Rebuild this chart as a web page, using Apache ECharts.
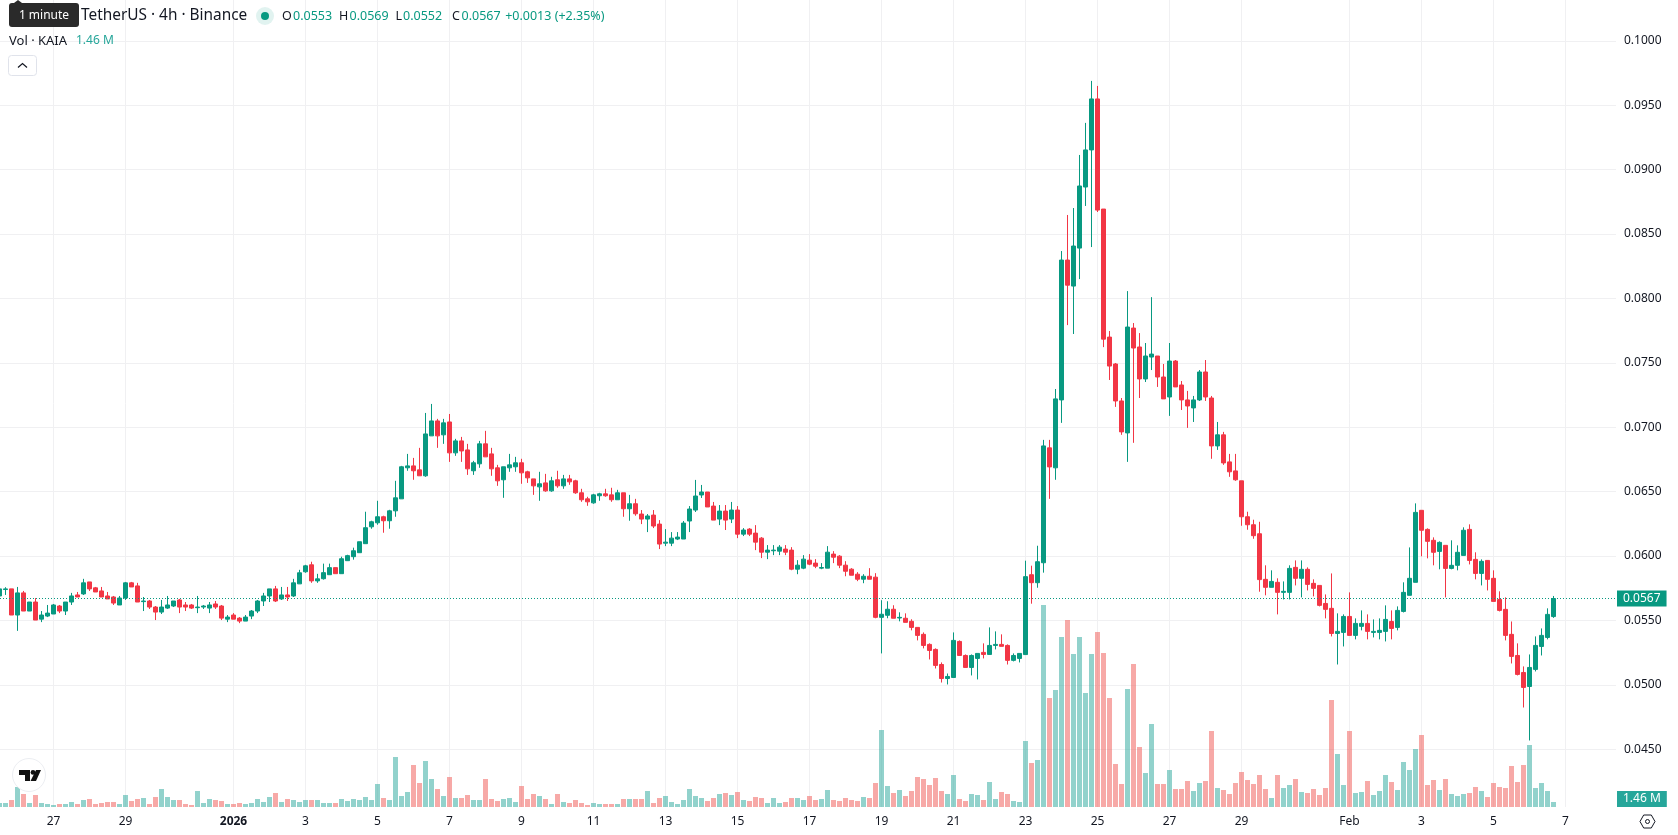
<!DOCTYPE html>
<html>
<head>
<meta charset="utf-8">
<style>html,body{margin:0;padding:0;background:#fff}#chart{width:1678px;height:835px}</style>
<script src="https://cdn.jsdelivr.net/npm/echarts@6/dist/echarts.min.js"></script>
</head>
<body>
<div id="chart"></div>
<script>
// KAIA / USDT, 4h candles, Binance
const opens = [
.05690,.05740,.05745,.05542,.05714,.05573,.05643,.05510,.05534,.05550,
.05612,.05573,.05643,.05698,.05706,.05799,.05753,.05729,.05690,.05682,
.05620,.05674,.05792,.05768,.05646,.05651,.05604,.05565,.05596,.05612,
.05659,.05620,.05620,.05599,.05604,.05596,.05628,.05612,.05510,.05542,
.05518,.05495,.05534,.05573,.05651,.05690,.05745,.05667,.05698,.05690,
.05784,.05878,.05932,.05807,.05824,.05855,.05910,.05863,.05964,.05995,
.06026,.06096,.06227,.06258,.06305,.06274,.06351,.06444,.06685,.06700,
.06669,.06623,.06933,.07049,.06941,.07041,.06801,.06894,.06824,.06662,
.06716,.06871,.06793,.06685,.06592,.06685,.06693,.06724,.06654,.06599,
.06537,.06568,.06506,.06592,.06545,.06599,.06584,.06491,.06444,.06413,
.06468,.06483,.06475,.06437,.06491,.06367,.06406,.06326,.06287,.06318,
.06248,.06100,.06100,.06132,.06132,.06272,.06357,.06474,.06497,.06388,
.06287,.06349,.06287,.06357,.06170,.06209,.06178,.06139,.06030,.06041,
.06038,.06054,.06046,.05898,.05906,.05968,.05945,.05906,.05906,.06015,
.05999,.05929,.05898,.05859,.05820,.05843,.05836,.05524,.05540,.05587,
.05519,.05517,.05493,.05446,.05392,.05314,.05275,.05158,.05049,.05057,
.05337,.05228,.05135,.05205,.05252,.05236,.05306,.05314,.05306,.05190,
.05205,.05235,.05855,.05793,.05948,.06840,.06685,.07212,.08298,.08096,
.08391,.08865,.09153,.09549,.08694,.07700,.07491,.07204,.06956,.07770,
.07623,.07375,.07545,.07553,.07390,.07235,.07514,.07328,.07212,.07150,
.07212,.07429,.07227,.06855,.06941,.06731,.06661,.06584,.06305,.06243,
.06173,.05819,.05757,.05796,.05718,.05718,.05912,.05827,.05897,.05788,
.05772,.05632,.05594,.05399,.05407,.05531,.05384,.05454,.05477,.05407,
.05407,.05415,.05492,.05446,.05570,.05695,.05796,.06355,.06207,.06122,
.06036,.06083,.05904,.05928,.06005,.06207,.05974,.05865,.05966,.05827,
.05663,.05586,.05392,.05228,.05096,.04987,.05120,.05298,.05368,.0553];

const closes = [
.05745,.05745,.05542,.05714,.05573,.05643,.05503,.05542,.05557,.05620,
.05573,.05643,.05690,.05682,.05792,.05745,.05721,.05682,.05667,.05635,
.05674,.05792,.05760,.05643,.05651,.05604,.05565,.05604,.05620,.05651,
.05604,.05604,.05596,.05604,.05612,.05620,.05604,.05518,.05526,.05510,
.05495,.05526,.05573,.05651,.05690,.05745,.05651,.05698,.05682,.05792,
.05870,.05924,.05807,.05823,.05871,.05910,.05863,.05979,.06003,.06041,
.06111,.06220,.06266,.06305,.06274,.06351,.06452,.06693,.06700,.06662,
.06623,.06948,.07049,.06933,.07034,.06801,.06894,.06816,.06677,.06724,
.06871,.06770,.06677,.06584,.06693,.06708,.06724,.06646,.06607,.06545,
.06561,.06506,.06584,.06545,.06599,.06576,.06491,.06437,.06421,.06475,
.06483,.06468,.06437,.06491,.06367,.06406,.06328,.06287,.06311,.06233,
.06093,.06108,.06139,.06147,.06256,.06365,.06466,.06497,.06381,.06279,
.06349,.06279,.06357,.06170,.06202,.06170,.06108,.06030,.06046,.06046,
.06069,.06030,.05898,.05929,.05976,.05937,.05921,.05911,.06030,.05991,
.05929,.05882,.05851,.05820,.05843,.05820,.05524,.05548,.05587,.05517,
.05524,.05485,.05446,.05384,.05306,.05267,.05151,.05049,.05065,.05345,
.05228,.05135,.05228,.05244,.05236,.05306,.05314,.05299,.05190,.05228,
.05244,.05840,.05793,.05956,.06855,.06692,.07220,.08298,.08103,.08407,
.08873,.09153,.09549,.08686,.07684,.07475,.07204,.06964,.07778,.07615,
.07375,.07553,.07568,.07390,.07220,.07514,.07313,.07212,.07165,.07212,
.07429,.07235,.06855,.06941,.06723,.06654,.06592,.06305,.06243,.06158,
.05817,.05757,.05803,.05718,.05726,.05904,.05827,.05897,.05780,.05749,
.05617,.05586,.05399,.05415,.05531,.05384,.05477,.05477,.05415,.05415,
.05423,.05508,.05438,.05578,.05718,.05827,.06339,.06200,.06114,.06029,
.06106,.05904,.05928,.06029,.06200,.05966,.05865,.05959,.05819,.05648,
.05578,.05384,.05221,.05081,.04980,.05135,.05306,.05384,.05547,.0567];

const lows = [
.05690,.05698,.05542,.05419,.05573,.05573,.05503,.05487,.05526,.05550,
.05557,.05542,.05620,.05682,.05698,.05729,.05721,.05682,.05667,.05620,
.05620,.05659,.05760,.05643,.05573,.05589,.05503,.05550,.05589,.05604,
.05557,.05573,.05589,.05557,.05589,.05557,.05589,.05503,.05487,.05510,
.05479,.05495,.05510,.05557,.05612,.05643,.05643,.05659,.05651,.05682,
.05784,.05870,.05792,.05792,.05817,.05855,.05863,.05863,.05964,.05972,
.06026,.06096,.06212,.06243,.06181,.06212,.06305,.06444,.06662,.06592,
.06623,.06615,.06933,.06840,.06871,.06731,.06778,.06731,.06630,.06630,
.06685,.06770,.06623,.06545,.06452,.06654,.06654,.06561,.06568,.06475,
.06429,.06499,.06499,.06530,.06522,.06553,.06483,.06421,.06390,.06406,
.06429,.06460,.06421,.06437,.06305,.06274,.06313,.06248,.06186,.06217,
.06054,.06077,.06077,.06124,.06132,.06186,.06342,.06451,.06381,.06279,
.06240,.06202,.06256,.06139,.06155,.06155,.06046,.05984,.05976,.06007,
.06007,.06007,.05890,.05859,.05898,.05929,.05906,.05898,.05906,.05945,
.05906,.05843,.05851,.05805,.05789,.05820,.05517,.05244,.05517,.05517,
.05493,.05485,.05423,.05345,.05283,.05197,.05127,.05018,.05003,.05057,
.05228,.05135,.05073,.05042,.05205,.05236,.05275,.05299,.05158,.05182,
.05174,.05235,.05630,.05754,.05871,.06444,.06592,.07034,.07793,.07724,
.08150,.08718,.08399,.08671,.07622,.07367,.07158,.06941,.06731,.06879,
.07227,.07351,.07444,.07313,.07220,.07088,.07313,.07134,.06995,.07041,
.07204,.07204,.06755,.06824,.06708,.06615,.06584,.06235,.06204,.06134,
.05723,.05695,.05757,.05547,.05663,.05663,.05772,.05679,.05733,.05687,
.05609,.05516,.05376,.05158,.05298,.05384,.05353,.05423,.05353,.05368,
.05353,.05337,.05353,.05423,.05562,.05695,.05796,.05998,.05982,.05928,
.05897,.05679,.05897,.05889,.06005,.05935,.05819,.05772,.05733,.05648,
.05570,.05345,.05166,.05073,.04824,.04568,.05104,.05228,.05353,.0552];

const highs = [
.05745,.05758,.05745,.05760,.05729,.05643,.05674,.05573,.05620,.05628,
.05620,.05643,.05714,.05721,.05823,.05799,.05760,.05760,.05721,.05690,
.05690,.05799,.05799,.05792,.05682,.05659,.05612,.05659,.05690,.05651,
.05667,.05643,.05628,.05690,.05620,.05643,.05651,.05620,.05542,.05557,
.05526,.05542,.05581,.05659,.05714,.05745,.05768,.05760,.05760,.05823,
.05893,.05932,.05956,.05862,.05941,.05941,.05910,.05995,.06010,.06065,
.06111,.06344,.06274,.06429,.06313,.06359,.06584,.06700,.06793,.06762,
.06840,.07111,.07181,.07065,.07065,.07103,.06910,.06925,.06871,.06739,
.06894,.06972,.06840,.06708,.06693,.06793,.06770,.06755,.06662,.06599,
.06654,.06638,.06615,.06662,.06630,.06630,.06592,.06522,.06460,.06483,
.06491,.06522,.06530,.06514,.06491,.06475,.06444,.06357,.06326,.06357,
.06279,.06209,.06186,.06186,.06272,.06388,.06591,.06552,.06497,.06420,
.06396,.06396,.06420,.06388,.06217,.06217,.06240,.06147,.06085,.06085,
.06085,.06085,.06069,.05968,.06007,.06015,.05976,.05945,.06077,.06038,
.06007,.05960,.05906,.05875,.05859,.05906,.05867,.05657,.05649,.05618,
.05563,.05555,.05509,.05446,.05407,.05322,.05283,.05174,.05088,.05407,
.05345,.05236,.05236,.05244,.05322,.05446,.05415,.05392,.05314,.05244,
.05244,.05964,.05925,.06080,.06902,.06902,.07297,.08368,.08648,.08702,
.09114,.09363,.09689,.09650,.08694,.07747,.07499,.07227,.08057,.07809,
.07731,.07654,.08010,.07553,.07491,.07654,.07522,.07359,.07282,.07243,
.07444,.07522,.07243,.07041,.06964,.06793,.06793,.06584,.06344,.06282,
.06266,.05928,.05889,.05827,.05803,.05928,.05966,.05966,.05912,.05819,
.05772,.05702,.05865,.05555,.05547,.05718,.05516,.05578,.05547,.05508,
.05516,.05617,.05578,.05609,.05796,.06067,.06409,.06355,.06215,.06145,
.06114,.06083,.06122,.06083,.06223,.06246,.06029,.05974,.05966,.05889,
.05726,.05679,.05492,.05322,.05143,.05236,.05376,.05438,.05594,.0569];

// Traded volume per candle, in millions of KAIA
const volumes = [
1.17,1.17,2.04,5.84,3.80,1.17,3.50,1.17,.88,.58,
.88,.88,1.46,.88,2.04,2.34,.88,1.17,1.46,1.46,
.88,3.50,1.75,2.34,2.63,.88,2.92,5.26,2.92,2.04,
2.04,.88,.58,4.67,1.17,2.34,2.04,1.75,.88,.88,
1.17,.88,1.17,2.34,1.46,2.92,4.09,1.46,2.34,2.04,
1.46,2.04,2.04,2.04,1.17,1.17,1.17,2.34,1.75,2.34,
2.04,2.92,2.04,6.72,2.63,2.04,14.60,3.21,4.38,12.26,
7.01,13.43,8.18,5.26,3.21,8.76,2.63,2.63,3.50,2.04,
2.04,8.18,2.34,1.75,2.34,2.63,1.46,6.13,2.34,3.80,
3.21,2.34,.88,3.80,1.46,1.17,2.04,1.17,.58,1.17,
.88,.88,.88,.88,2.34,2.34,2.34,2.34,4.67,1.17,
2.63,3.21,1.46,.88,2.04,5.26,3.21,2.63,1.75,2.63,
3.80,4.09,3.50,4.38,2.04,1.75,2.92,2.63,1.17,2.63,
1.17,1.46,2.63,2.63,2.04,3.21,2.04,2.34,4.96,2.04,
1.75,2.63,2.04,1.75,2.92,2.63,7.01,22.48,6.13,4.09,
4.96,3.21,4.67,8.76,8.18,6.42,8.47,4.67,3.80,9.34,
2.34,1.75,3.80,3.50,2.04,7.30,2.34,4.38,3.80,1.75,
1.46,19.27,12.85,13.72,58.98,31.83,34.16,49.64,54.60,44.68,
49.64,33.29,44.68,51.10,44.97,31.83,12.56,6.72,34.46,41.76,
17.52,9.93,24.24,6.72,6.72,10.80,5.26,5.26,7.59,4.67,
7.01,7.59,22.19,5.55,4.96,3.80,7.01,10.22,7.88,6.72,
9.34,5.26,2.63,9.34,5.55,6.42,8.18,4.38,4.09,5.26,
3.50,5.55,31.24,15.48,6.42,22.19,4.09,4.38,7.59,3.50,
4.67,9.34,7.30,4.96,13.14,10.80,16.94,21.02,6.42,7.88,
4.96,8.18,3.80,3.21,3.80,4.09,5.84,4.67,2.92,7.01,
5.84,5.55,11.97,7.30,12.26,18.10,5.55,7.01,4.67,1.46];

// Date ticks: the candle position of each label, and its text
const tickCandles = [9,21,39,51,63,75,87,99,111,123,135,147,159,171,183,195,207,225,237,249,261];
const tickLabels = ['27','29','2026','3','5','7','9','11','13','15','17','19','21','23','25','27','29','Feb','3','5','7'];

const lastPrice = 0.0567;
const lastVolume = 1.46;

const UP = '#089981', DOWN = '#F23645';
const VOL_UP = 'rgba(38,166,154,0.5)', VOL_DOWN = 'rgba(239,83,80,0.5)';
const TEXT = '#131722', GRID = '#f0f0f2';
const FONT = '"Noto Sans", sans-serif';

const candles = opens.map((o, i) => [i, o, closes[i], lows[i], highs[i]]);
const volumeBars = volumes.map((v, i) => ({
  value: [i, v],
  itemStyle: { color: closes[i] >= opens[i] ? VOL_UP : VOL_DOWN }
}));

const chart = echarts.init(document.getElementById('chart'), null, { renderer: 'canvas' });

const xRange = { min: 1 / 12, max: 1616.5 / 6 };

// One legend text in the title row
const headerText = (x, text, fill, align) => ({
  type: 'text', z: 100, x, y: 16,
  style: { text, fill, fontSize: 12.5, fontFamily: FONT, verticalAlign: 'middle', align: align || 'left' }
});
const ohlcGroup = (x, gap, key, value) => [
  headerText(x, key, TEXT),
  headerText(x + gap, value, UP)
];

chart.setOption({
  animation: false,
  backgroundColor: '#ffffff',
  textStyle: { fontFamily: FONT },
  grid: [
    { left: 0, width: 1616, top: 0, height: 807 },
    { left: 0, width: 1616, top: 2.2, height: 811.44 }
  ],
  xAxis: [
    {
      type: 'value', gridIndex: 0, ...xRange,
      axisLine: { show: false },
      axisTick: { show: false, customValues: tickCandles },
      splitLine: { show: true, lineStyle: { color: GRID, width: 1 } },
      axisLabel: {
        customValues: tickCandles,
        color: TEXT, fontSize: 12, fontFamily: FONT, margin: 9,
        formatter: v => {
          const t = tickLabels[tickCandles.indexOf(v)];
          return t === '2026' ? '{y|2026}' : t;
        },
        rich: { y: { fontWeight: 'bold', fontSize: 12, color: TEXT, fontFamily: FONT } }
      }
    },
    { type: 'value', gridIndex: 1, ...xRange, show: false, splitLine: { show: false } }
  ],
  yAxis: [
    { type: 'value', gridIndex: 0, min: 0, max: 235.64, show: false, splitLine: { show: false } },
    {
      type: 'value', gridIndex: 1, position: 'right', min: 0.04, max: 0.103, interval: 0.005,
      axisLine: { show: false }, axisTick: { show: false },
      splitLine: { show: true, showMinLine: false, showMaxLine: false, lineStyle: { color: GRID, width: 1 } },
      axisLabel: {
        showMinLabel: false, showMaxLabel: false,
        color: TEXT, fontSize: 12, fontFamily: FONT, margin: 8, padding: [2, 0, 0, 0],
        formatter: v => v.toFixed(4)
      }
    }
  ],
  series: [
    {
      type: 'bar', name: 'Vol', xAxisIndex: 0, yAxisIndex: 0, barWidth: 5, z: 2,
      data: volumeBars,
      markLine: {
        silent: true, symbol: 'none', animation: false, precision: 4,
        lineStyle: { color: 'transparent' },
        label: {
          position: 'end', distance: 1, offset: [0, -3],
          formatter: lastVolume.toFixed(2) + ' M',
          backgroundColor: '#26a69a', color: '#fff', fontSize: 12, fontFamily: FONT,
          padding: [2, 6], lineHeight: 12
        },
        data: [{ yAxis: lastVolume }]
      }
    },
    {
      type: 'candlestick', name: 'KAIAUSDT', xAxisIndex: 1, yAxisIndex: 1, barWidth: 4, z: 3,
      itemStyle: { color: UP, color0: DOWN, borderColor: UP, borderColor0: DOWN, borderWidth: 1 },
      encode: { x: 0, y: [1, 2, 3, 4] },
      data: candles,
      markLine: {
        silent: true, symbol: 'none', animation: false, precision: 4,
        lineStyle: { color: UP, type: [1, 2], width: 1 },
        label: {
          position: 'end', distance: 1,
          formatter: lastPrice.toFixed(4),
          backgroundColor: UP, color: '#fff', fontSize: 12, fontFamily: FONT,
          padding: [2, 6], lineHeight: 12
        },
        data: [{ yAxis: lastPrice }]
      }
    }
  ],
  graphic: [
    // Hover hint over the symbol title
    { type: 'polygon', z: 101, shape: { points: [[14, 3], [18, 0], [22, 3]] }, style: { fill: '#2a2a2a' } },
    { type: 'rect', z: 101, shape: { x: 9, y: 3, width: 70, height: 24, r: 3 }, style: { fill: '#2a2a2a' } },
    { type: 'text', z: 102, x: 44, y: 16, style: { text: '1 minute', fill: '#fff', fontSize: 12, fontFamily: FONT, align: 'center', verticalAlign: 'middle' } },
    // Title row
    { type: 'text', z: 100, x: 81, y: 16, style: { text: 'TetherUS · 4h · Binance', fill: TEXT, fontSize: 15.4, fontFamily: FONT, verticalAlign: 'middle' } },
    { type: 'circle', z: 100, shape: { cx: 265, cy: 16, r: 9 }, style: { fill: 'rgba(8,153,129,0.12)' } },
    { type: 'circle', z: 100, shape: { cx: 265, cy: 16, r: 4 }, style: { fill: UP } },
    ...ohlcGroup(282, 11, 'O', '0.0553'),
    ...ohlcGroup(339, 10.5, 'H', '0.0569'),
    ...ohlcGroup(395.5, 7.5, 'L', '0.0552'),
    ...ohlcGroup(452, 9.5, 'C', '0.0567'),
    headerText(604.5, '+0.0013 (+2.35%)', UP, 'right'),
    // Volume legend row
    { type: 'text', z: 100, x: 9, y: 41, style: { text: 'Vol · KAIA', fill: TEXT, fontSize: 13, fontFamily: FONT, verticalAlign: 'middle' } },
    { type: 'text', z: 100, x: 76, y: 41, style: { text: '1.46 M', fill: '#26a69a', fontSize: 12, fontFamily: FONT, verticalAlign: 'middle' } },
    // Collapse button
    { type: 'rect', z: 100, shape: { x: 8.5, y: 55.5, width: 28, height: 20, r: 3 }, style: { fill: '#fff', stroke: '#e0e3eb', lineWidth: 1 } },
    { type: 'polyline', z: 101, shape: { points: [[18, 67.5], [22.5, 63.5], [27, 67.5]] }, style: { stroke: TEXT, lineWidth: 1.2, fill: null } },
    // Logo badge
    { type: 'circle', z: 100, shape: { cx: 29, cy: 775, r: 16.5 }, style: { fill: '#fff', stroke: '#eceef2', lineWidth: 1 } },
    { type: 'polygon', z: 101, shape: { points: [[19, 770], [30, 770], [30, 781], [25, 781], [25, 775], [19, 775]] }, style: { fill: '#111' } },
    { type: 'circle', z: 101, shape: { cx: 33, cy: 772.4, r: 2.4 }, style: { fill: '#111' } },
    { type: 'polygon', z: 101, shape: { points: [[36, 770], [41, 770], [36, 781], [30.5, 781]] }, style: { fill: '#111' } },
    // Axis settings icon
    { type: 'polygon', z: 100, shape: { points: [[1640, 821.5], [1643.7, 815], [1651.3, 815], [1655, 821.5], [1651.3, 828], [1643.7, 828]] }, style: { fill: '#fff', stroke: TEXT, lineWidth: 1 } },
    { type: 'circle', z: 101, shape: { cx: 1647.5, cy: 821.5, r: 2 }, style: { fill: '#fff', stroke: TEXT, lineWidth: 1 } }
  ]
});
</script>
</body>
</html>
